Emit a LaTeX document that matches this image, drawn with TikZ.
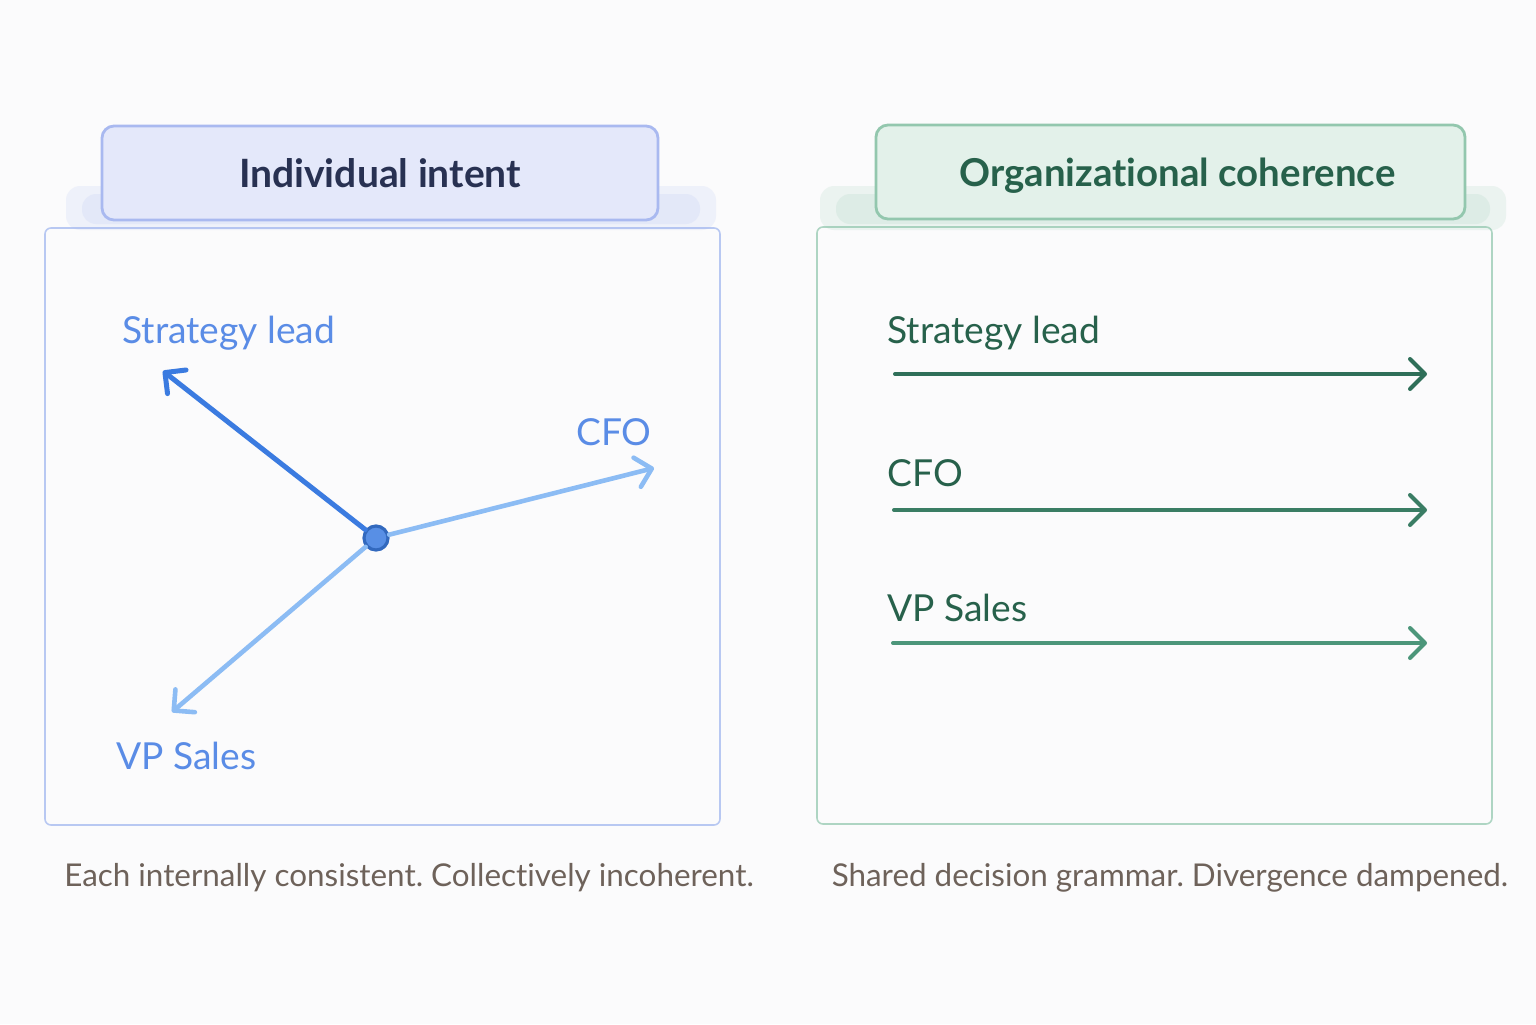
\documentclass[tikz,border=0pt]{standalone}
\usepackage{fontspec}
\setmainfont{Lato}[Ligatures=NoCommon]
\usepackage{tikz}
\usetikzlibrary{arrows.meta,positioning}
\definecolor{pagebg}{HTML}{FBFBFC}
\definecolor{leftframe}{HTML}{B8C8F2}
\definecolor{lefthead}{HTML}{E4E8FA}
\definecolor{leftheadline}{HTML}{A9B9F0}
\definecolor{navy}{HTML}{283152}
\definecolor{bluestrong}{HTML}{3B7BE0}
\definecolor{bluelight}{HTML}{8CBCF4}
\definecolor{bluelabel}{HTML}{5A8CE6}
\definecolor{rightframe}{HTML}{AED5C3}
\definecolor{righthead}{HTML}{E3F1EA}
\definecolor{rightheadline}{HTML}{93C7AE}
\definecolor{greentext}{HTML}{27614B}
\definecolor{greenA}{HTML}{2F6F59}
\definecolor{greenB}{HTML}{3A7D64}
\definecolor{greenC}{HTML}{4C967A}
\definecolor{captiongray}{HTML}{6E625A}
\frenchspacing

\begin{document}
\begin{tikzpicture}[
  x=0.5pt,y=-0.5pt,
  panel/.style={draw=#1,line width=0.8pt,rounded corners=3pt,inner sep=0pt,
    minimum width=337.5pt,minimum height=298.5pt},
  header/.style={rounded corners=6pt,line width=1.4pt,inner sep=0pt,text depth=0pt,
    minimum height=47pt,font=\fontsize{19.5}{23}\selectfont\bfseries},
  lbl/.style={inner sep=0pt,font=\fontsize{18.6}{22}\selectfont},
  caption/.style={inner sep=0pt,text=captiongray,font=\fontsize{15.7}{19}\selectfont},
  arr/.style={-{Straight Barb[length=7.5pt,width=15pt,round]},line cap=round},
  smudge/.style={fill=#1,opacity=0.15,rounded corners=7pt}
]
\useasboundingbox[fill=pagebg] (0,0) rectangle (1536,1024);

% left panel: individual intent
\node[panel=leftframe] (lpanel) at (382.5,526.5) {};
\fill[smudge=leftheadline] (66,186) rectangle (716,230);
\fill[smudge=leftheadline] (82,194) rectangle (700,224);
\node[header,draw=leftheadline,fill=lefthead,text=navy,minimum width=278pt]
  (lhead) at (380,173) {Individual intent};

\node[circle,fill=bluestrong!85!white,draw=bluestrong!85!black,line width=1.6pt,
  minimum size=12pt,inner sep=0pt] (hub) at (376,538) {};
\coordinate (lstrat) at (163,371);
\coordinate (lcfo) at (654,468);
\coordinate (lvp) at (172,712);
\draw[arr,bluelight,line width=2.3pt] (hub) -- (lcfo);
\draw[arr,bluelight,line width=2.3pt] (hub) -- (lvp);
\draw[arr,bluestrong,line width=2.5pt] (hub) -- (lstrat);

\node[lbl,text=bluelabel,anchor=west] (lstratlbl) at (122,333) {Strategy lead};
\node[lbl,text=bluelabel] (lcfolbl) at (614,432) {CFO};
\node[lbl,text=bluelabel,anchor=west] (lvplbl) at (116,756) {VP Sales};

% right panel: organizational coherence
\node[panel=rightframe] (rpanel) at (1154.5,525.5) {};
\fill[smudge=rightheadline] (820,186) rectangle (1506,230);
\fill[smudge=rightheadline] (836,194) rectangle (1490,224);
\node[header,draw=rightheadline,fill=righthead,text=greentext,minimum width=294.5pt,
  font=\fontsize{19.2}{23}\selectfont\bfseries] (rhead) at (1170.5,172)
  {\hspace*{7pt}Organizational coherence};

\node[lbl,text=greentext,anchor=west] (rstratlbl) at (887,333) {Strategy lead};
\node[lbl,text=greentext,anchor=west] (rcfolbl) at (887,473) {CFO};
\node[lbl,text=greentext,anchor=west] (rvplbl) at (887,608) {VP Sales};
\coordinate (rstratA) at (895,374);
\coordinate (rstratB) at (1427,374);
\coordinate (rcfoA) at (894,510);
\coordinate (rcfoB) at (1427,510);
\coordinate (rvpA) at (893,643);
\coordinate (rvpB) at (1427,643);
\draw[arr,greenA,line width=2pt] (rstratA) -- (rstratB);
\draw[arr,greenB,line width=2pt] (rcfoA) -- (rcfoB);
\draw[arr,greenC,line width=2pt] (rvpA) -- (rvpB);

% captions
\node[caption] (lcap) at (409,878) {Each internally consistent. Collectively incoherent.};
\node[caption] (rcap) at (1170,878) {Shared decision grammar. Divergence dampened.};
\end{tikzpicture}
\end{document}
